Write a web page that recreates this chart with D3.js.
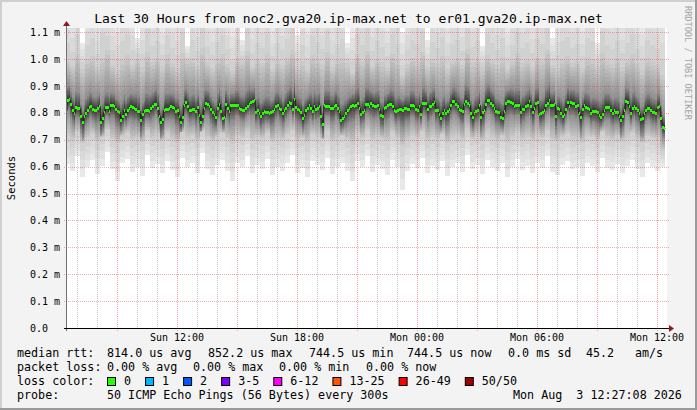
<!DOCTYPE html>
<html>
<head>
<meta charset="utf-8">
<script src="https://cdn.jsdelivr.net/npm/d3@7"></script>
<style>
  html, body { margin: 0; padding: 0; background: #f3f3f3; }
  svg { display: block; font-family: "DejaVu Sans Mono", monospace; }
  text { white-space: pre; }
</style>
</head>
<body>
<script>
// median rtt, one value per 5 minute step (microseconds)
const medianUs = [
  812,848,852,832,812,798,821,819,818,790, 767,788,800,810,822,825,813,810,812,818,
  825,767,781,805,821,821,809,830,829,827, 815,808,802,775,790,812,796,810,818,825,
  821,818,816,806,808,773,795,806,812,812, 806,820,825,835,835,820,790,767,779,812,
  816,816,818,825,822,818,809,810,790,767, 784,830,840,825,810,810,815,815,806,822,
  794,765,790,820,837,835,825,816,802,796,
  784,820,835,806,781,785,835,820,806,830, 830,830,830,830,820,816,812,812,818,827,
  835,840,843,847,802,810,800,790,800,806, 804,802,800,803,806,816,825,830,818,815,
  800,810,818,830,841,837,816,852,821,815, 810,802,781,794,810,820,830,818,806,825,
  816,820,825,790,759,830,825,825,825,818, 818,825,830,818,806,775,781,790,800,810,
  818,825,830,827,830,837,818,797,805,810,
  833,835,827,837,830,827,827,830,815,794, 790,818,822,830,835,832,827,810,806,812,
  814,816,812,818,817,816,816,830,828,825, 815,810,827,796,837,837,837,816,825,827,
  835,840,812,810,797,781,800,810,800,806, 815,830,843,846,835,825,816,810,806,835,
  843,837,830,800,785,800,806,812,828,785, 802,812,835,847,847,837,830,818,806,804,
  802,785,781,806,837,843,846,840,837,827,
  830,830,830,802,816,815,825,830,843,825, 805,820,837,840,797,800,805,812,830,837,
  849,830,830,835,790,818,816,800,788,797, 816,840,827,840,838,837,827,830,800,784,
  815,830,822,818,815,800,806,806,806,802, 794,785,797,812,821,821,821,810,800,810,
  802,802,790,773,790,812,843,840,827,800, 818,825,818,810,800,778,781,800,810,818,
  818,810,802,804,800,822,825,781,748,745
];

// smoke, one column per 15 minutes (microseconds)
const pingMin = [
  610,585,640,560,598,625,572,604,655,590, 545,612,630,580,600,566,642,595,610,575,
  620,588,560,633,600,614,578,650,592,570, 605,625,585,548,612,598,640,575,606,590,
  630,568,600,585,615,642,578,596,560,620, 605,588,634,572,600,612,585,545,622,598,
  640,580,608,592,570,626,600,515,585,610, 596,634,575,604,588,620,565,598,612,580,
  642,590,606,572,625,600,584,615,560,598, 630,588,604,575,612,596,640,582,570,608,
  620,590,598,565,615,604,580,632,596,588, 610,575,602,625,590,560,612,598,585,600
];
const pingP10 = [
  715,700,728,690,705,720,694,710,735,702, 688,712,725,698,708,692,730,704,716,696,
  722,700,690,728,706,714,698,732,705,694, 710,724,702,684,713,706,730,696,712,704,
  726,692,708,700,718,732,698,706,688,720, 712,702,728,694,708,714,700,682,722,706,
  732,698,712,704,694,724,708,676,700,714, 706,728,696,710,702,720,690,706,714,698,
  734,704,712,694,722,708,700,716,688,706, 726,700,710,696,714,706,732,698,694,712,
  720,702,706,690,716,710,698,728,706,700, 714,696,708,724,702,688,714,706,700,660
];
const coreBelow = [
  40,52,38,60,45,42,55,48,36,50, 62,44,40,53,47,58,38,49,43,56,
  41,50,60,37,46,44,54,35,48,57, 45,40,52,63,43,47,36,55,44,50,
  39,58,46,51,42,36,54,47,61,40, 44,50,38,56,46,42,51,64,40,47,
  37,53,44,49,58,40,46,70,52,43, 48,38,55,45,50,41,59,47,43,52,
  36,49,44,57,40,46,51,42,60,47, 39,50,45,55,43,48,36,53,58,44,
  41,51,47,60,42,45,53,38,47,50, 43,56,46,40,51,62,43,47,50,40
];
const coreAbove = [
  54,48,60,45,57,52,49,62,56,47, 42,58,54,50,59,46,64,52,56,48,
  60,51,45,58,53,57,49,67,52,46, 56,61,50,43,57,53,65,48,55,51,
  62,46,54,50,58,66,48,53,44,59, 55,50,63,47,54,58,51,42,60,53,
  64,49,56,52,46,61,54,40,50,57, 53,62,48,56,51,59,45,54,57,49,
  65,52,56,47,60,54,50,58,44,53, 62,51,55,48,57,53,66,49,46,56,
  59,51,54,45,58,55,49,63,53,51, 57,47,54,61,50,43,56,53,51,48
];
const pingP90 = [
  995,975,1020,965,1000,1010,972,1005,1035,980, 958,998,1015,978,1002,970,1028,990,1006,974,
  1018,985,966,1022,996,1004,976,1040,988,968, 1000,1018,982,955,1004,994,1030,972,1002,986,
  1024,965,996,980,1008,1035,974,994,960,1015, 1000,982,1026,970,996,1006,984,950,1018,992,
  1032,976,1002,988,968,1020,996,940,982,1004, 992,1026,972,1000,986,1012,964,994,1004,978,
  1038,988,1002,970,1016,996,980,1008,962,992, 1022,984,998,972,1006,994,1034,978,968,1002,
  1012,984,994,966,1008,1000,976,1024,992,982, 1004,972,998,1018,984,960,1004,992,980,940
];
const pingMax = [
  1250,1180,1320,1060,1210,1290,1160,1380,1240,1190, 1150,1270,1330,1200,1080,1170,1360,1230,1260,1140,
  1300,1210,1170,1340,1050,1280,1190,1410,1220,1160, 1260,1310,1200,1130,1290,1070,1370,1180,1240,1210,
  1330,1150,1250,1190,1280,1390,1090,1230,1140,1300, 1260,1200,1340,1170,1240,1280,1060,1120,1320,1230,
  1380,1190,1270,1220,1150,1310,1240,1100,1200,1280, 1250,1340,1070,1260,1210,1300,1160,1240,1270,1190,
  1400,1220,1260,1050,1320,1250,1200,1290,1140,1230, 1330,1210,1250,1180,1280,1240,1390,1080,1160,1260,
  1300,1220,1240,1150,1290,1270,1060,1350,1230,1210, 1260,1170,1240,1320,1200,1140,1280,1230,1210,1180
];

const yTickValues = [0, 0.1, 0.2, 0.3, 0.4, 0.5, 0.6, 0.7, 0.8, 0.9, 1.0, 1.1];
const yTickLabels = ['0.0', '0.1 m', '0.2 m', '0.3 m', '0.4 m', '0.5 m', '0.6 m', '0.7 m', '0.8 m', '0.9 m', '1.0 m', '1.1 m'];
const xTickTimes = ['2026-08-02T12:00Z', '2026-08-02T18:00Z', '2026-08-03T00:00Z', '2026-08-03T06:00Z', '2026-08-03T12:00Z'];
const xTickLabels = ['Sun 12:00', 'Sun 18:00', 'Mon 00:00', 'Mon 06:00', 'Mon 12:00'];
const lossLabels = ['0', '1', '2', '3-5', '6-12', '13-25', '26-49', '50/50'];
const lossColors = ['#26ff00', '#00b8ff', '#0059ff', '#7e00ff', '#ff00ff', '#ff5500', '#ff0000', '#a10000'];

const width = 697, height = 410;
const plot = { left: 67, right: 667, top: 28, bottom: 328 };

const svg = d3.select('body')
    .append('svg')
    .attr('width', width)
    .attr('height', height);

// background and 3d frame
svg.append('rect').attr('width', width).attr('height', height).attr('fill', '#f3f3f3');
svg.append('rect').attr('width', width).attr('height', 2).attr('fill', '#cfcfcf');
svg.append('rect').attr('width', 2).attr('height', height).attr('fill', '#cfcfcf');
svg.append('rect').attr('y', height - 2).attr('width', width).attr('height', 2).attr('fill', '#9a9a9a');
svg.append('rect').attr('x', width - 2).attr('width', 2).attr('height', height).attr('fill', '#9a9a9a');

svg.append('rect')
    .attr('x', plot.left).attr('y', plot.top)
    .attr('width', plot.right - plot.left).attr('height', plot.bottom - plot.top)
    .attr('fill', '#fff');

svg.append('clipPath').attr('id', 'clip')
    .append('rect')
    .attr('x', plot.left).attr('y', plot.top)
    .attr('width', plot.right - plot.left).attr('height', plot.bottom - plot.top);

const start = new Date('2026-08-02T06:30Z');
const end = new Date('2026-08-03T12:30Z');
const x = d3.scaleUtc().domain([start, end]).range([plot.left, plot.right]);
const y = d3.scaleLinear().domain([0, 1.116]).range([plot.bottom, plot.top]);

// each step is a 5 minute bucket, sorted 50 pings described by a few quantiles
const stepMs = 300000;
const first = +start - stepMs;
const steps = medianUs.map((m, k) => {
    const c = Math.floor(k / 3);
    const anchors = [pingMin[c], pingP10[c], m - coreBelow[c], m, m + coreAbove[c], pingP90[c], pingMax[c]]
        .map(v => v / 1000)
        .sort(d3.ascending);
    return {
        t: new Date(first + k * stepMs),
        med: m / 1000,
        q: d3.scaleLinear().domain([1, 5, 13, 25.5, 38, 46, 50]).range(anchors)
    };
});
steps.push(Object.assign({}, steps[steps.length - 1], { t: new Date(first + medianUs.length * stepMs) }));

const graph = svg.append('g').attr('clip-path', 'url(#clip)');

// smoke: outer bands light, inner bands dark
const half = 25;
for (let i = 1; i <= half; i++) {
    const g = Math.floor(190 / half * (half - i)) + 50;
    graph.append('path')
        .datum(steps)
        .attr('d', d3.area()
            .curve(d3.curveStepAfter)
            .x(d => x(d.t))
            .y0(d => y(d.q(i)))
            .y1(d => y(d.q(51 - i))))
        .attr('fill', d3.rgb(g, g, g))
        .attr('shape-rendering', 'crispEdges');
}

graph.append('path')
    .datum(steps)
    .attr('d', d3.line().curve(d3.curveStepAfter).x(d => x(d.t)).y(d => Math.round(y(d.med)) + 0.5))
    .attr('fill', 'none')
    .attr('stroke', '#202020')
    .attr('stroke-width', 1);

graph.append('path')
    .datum(steps)
    .attr('d', d3.area()
        .curve(d3.curveStepAfter)
        .x(d => x(d.t))
        .y0(d => Math.round(y(d.med)) + 1.5)
        .y1(d => Math.round(y(d.med)) - 1))
    .attr('fill', lossColors[0])
    .attr('shape-rendering', 'crispEdges');

// grid
const grid = svg.append('g').attr('fill', 'none').attr('stroke-dasharray', '1,1');
x.ticks(d3.utcHour.every(1)).forEach(t => {
    const px = Math.round(x(t)) + 0.5;
    const major = t.getUTCHours() % 3 === 0;
    grid.append('line')
        .attr('x1', px).attr('x2', px)
        .attr('y1', plot.top).attr('y2', plot.bottom + (major ? 3 : 2))
        .attr('stroke', major ? 'rgba(235,40,40,0.4)' : 'rgba(130,130,130,0.45)');
});
yTickValues.slice(1).forEach(v => {
    const py = Math.round(y(v)) + 0.5;
    grid.append('line')
        .attr('x1', plot.left - 3).attr('x2', plot.right + 2)
        .attr('y1', py).attr('y2', py)
        .attr('stroke', 'rgba(235,40,40,0.4)');
});

// axes and arrows
svg.append('line')
    .attr('x1', plot.left - 0.5).attr('x2', plot.left - 0.5)
    .attr('y1', plot.bottom + 3).attr('y2', plot.top - 4)
    .attr('stroke', '#707070');
svg.append('line')
    .attr('x1', plot.left - 3).attr('x2', plot.right + 4)
    .attr('y1', plot.bottom + 0.5).attr('y2', plot.bottom + 0.5)
    .attr('stroke', '#000');
svg.append('path')
    .attr('d', `M${plot.left - 4},${plot.top - 2}L${plot.left + 3},${plot.top - 2}L${plot.left - 0.5},${plot.top - 7}Z`)
    .attr('fill', '#8b1a1a');
svg.append('path')
    .attr('d', `M${plot.right + 2},${plot.bottom - 3}L${plot.right + 2},${plot.bottom + 4}L${plot.right + 7},${plot.bottom + 0.5}Z`)
    .attr('fill', '#8b1a1a');

// tick labels
svg.append('g')
    .attr('font-size', 10)
    .selectAll('text')
    .data(yTickValues)
    .join('text')
    .attr('x', 30)
    .attr('y', d => y(d) + 3.5)
    .text((d, i) => yTickLabels[i]);

svg.append('g')
    .attr('font-size', 10)
    .attr('text-anchor', 'middle')
    .selectAll('text')
    .data(xTickTimes)
    .join('text')
    .attr('x', d => x(new Date(d)))
    .attr('y', 341)
    .text((d, i) => xTickLabels[i]);

svg.append('text')
    .attr('x', 348.5).attr('y', 23)
    .attr('text-anchor', 'middle')
    .attr('font-size', 13)
    .text('Last 30 Hours from noc2.gva20.ip-max.net to er01.gva20.ip-max.net');

svg.append('text')
    .attr('transform', 'translate(15,178) rotate(-90)')
    .attr('text-anchor', 'middle')
    .attr('font-size', 10.5)
    .text('Seconds');

svg.append('text')
    .attr('transform', 'translate(685,6) rotate(90)')
    .attr('font-size', 8.6)
    .attr('fill', '#a4a4a4')
    .text('RRDTOOL / TOBI OETIKER');

// legend
const legend = svg.append('g').attr('font-size', 11.7);
const row = (yy, items) => items.forEach(([px, s]) => legend.append('text').attr('x', px).attr('y', yy).text(s));

row(357, [[17, 'median rtt:'], [107, '814.0 us avg'], [208, '852.2 us max'], [309, '744.5 us min'],
    [407, '744.5 us now'], [508, '0.0 ms sd'], [586, '45.2'], [635, 'am/s']]);
row(371, [[17, 'packet loss:'], [107, '0.00 % avg'], [193, '0.00 % max'], [279, '0.00 % min'], [366, '0.00 % now']]);
row(385, [[17, 'loss color:']]);
row(399, [[17, 'probe:'], [107, '50 ICMP Echo Pings (56 Bytes) every 300s'], [513, 'Mon Aug  3 12:27:08 2026']]);

let lx = 107;
lossLabels.forEach((label, i) => {
    legend.append('rect')
        .attr('x', lx + 0.5).attr('y', 377.5)
        .attr('width', 8).attr('height', 8)
        .attr('fill', lossColors[i])
        .attr('stroke', '#000');
    const t = legend.append('text').attr('x', lx + 17).attr('y', 385).text(label);
    lx += 17 + t.node().getComputedTextLength() + 14;
});
</script>
</body>
</html>
